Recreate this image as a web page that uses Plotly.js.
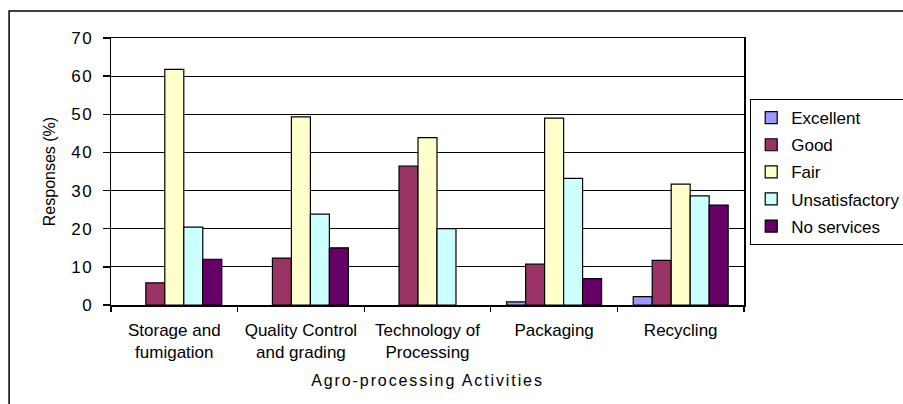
<!DOCTYPE html>
<html>
<head>
<meta charset="utf-8">
<script src="https://cdn.plot.ly/plotly-3.0.1.min.js"></script>
<style>
html,body{margin:0;padding:0;background:#fff;}
#chart{width:903px;height:404px;}
#chart .ytick text{letter-spacing:1.5px;}
#chart .g-xtitle text{letter-spacing:1.9px;}
</style>
</head>
<body>
<div id="chart"></div>
<script>
const categories = ["Storage and<br>fumigation", "Quality Control<br>and grading", "Technology of<br>Processing", "Packaging", "Recycling"];
const excellent = [0, 0, 0, 0.8, 2.2];
const good = [5.8, 12.3, 36.4, 10.7, 11.7];
const fair = [61.8, 49.3, 43.9, 49.0, 31.7];
const unsatisfactory = [20.4, 23.8, 20.0, 33.2, 28.6];
const noServices = [12.0, 15.0, 0, 6.9, 26.2];
const seriesNames = ["Excellent", "Good", "Fair", "Unsatisfactory", "No services"];
const seriesColors = ["#9999FF", "#993366", "#FFFFCC", "#CCFFFF", "#660066"];
const seriesValues = [excellent, good, fair, unsatisfactory, noServices];
const yTicks = [0, 10, 20, 30, 40, 50, 60, 70];

const FONT = "Liberation Sans, Arial, sans-serif";
// zero responses draw no bar (as in the source chart)
const traces = seriesValues.map((vals, i) => ({
  type: "bar",
  name: seriesNames[i],
  x: categories,
  y: vals.map(v => v === 0 ? null : v),
  legendgroup: "g" + i,
  marker: {color: seriesColors[i], line: {color: "#000", width: 1.2}},
  hoverinfo: "skip"
}));

const layout = {
  width: 903, height: 404,
  margin: {l: 111, r: 159, t: 38, b: 99, autoexpand: false},
  paper_bgcolor: "#fff", plot_bgcolor: "#fff",
  barmode: "group", bargap: 0.25, bargroupgap: 0,
  font: {family: FONT, size: 17, color: "#000"},
  xaxis: {
    showgrid: false, showline: true, linecolor: "#000", linewidth: 1.5, mirror: true,
    ticks: "outside", ticklen: 5, tickcolor: "#000", tickwidth: 1.3, tickson: "boundaries",
    ticklabelstandoff: 9,
    tickfont: {family: FONT, size: 17, color: "#000"},
    title: {text: "Agro-processing Activities", font: {family: FONT, size: 16, color: "#000"}, standoff: 14}
  },
  yaxis: {
    range: [0, 70], tickvals: yTicks, ticktext: yTicks.map(String),
    showgrid: true, gridcolor: "#000", gridwidth: 1,
    showline: true, linecolor: "#000", linewidth: 1.5, mirror: true,
    ticks: "outside", ticklen: 7, tickcolor: "#000", tickwidth: 1.3,
    ticklabelstandoff: 6,
    zeroline: false,
    tickfont: {family: FONT, size: 17, color: "#000"},
    title: {text: "Responses (%)", font: {family: FONT, size: 16, color: "#000"}, standoff: 14}
  },
  legend: {
    x: 1.0095, y: 0.772, xanchor: "left", yanchor: "top",
    bordercolor: "#000", borderwidth: 1.2, bgcolor: "#fff",
    traceorder: "grouped", tracegroupgap: 2,
    font: {family: FONT, size: 17, color: "#000"}
  },
  shapes: [{
    type: "rect", xref: "paper", yref: "paper",
    x0: -0.161, x1: 1.4, y0: -0.5, y1: 1.101,
    line: {color: "#000", width: 1.5}, layer: "below"
  }],
  showlegend: true
};

Plotly.newPlot("chart", traces, layout, {staticPlot: true, displayModeBar: false});
</script>
</body>
</html>
